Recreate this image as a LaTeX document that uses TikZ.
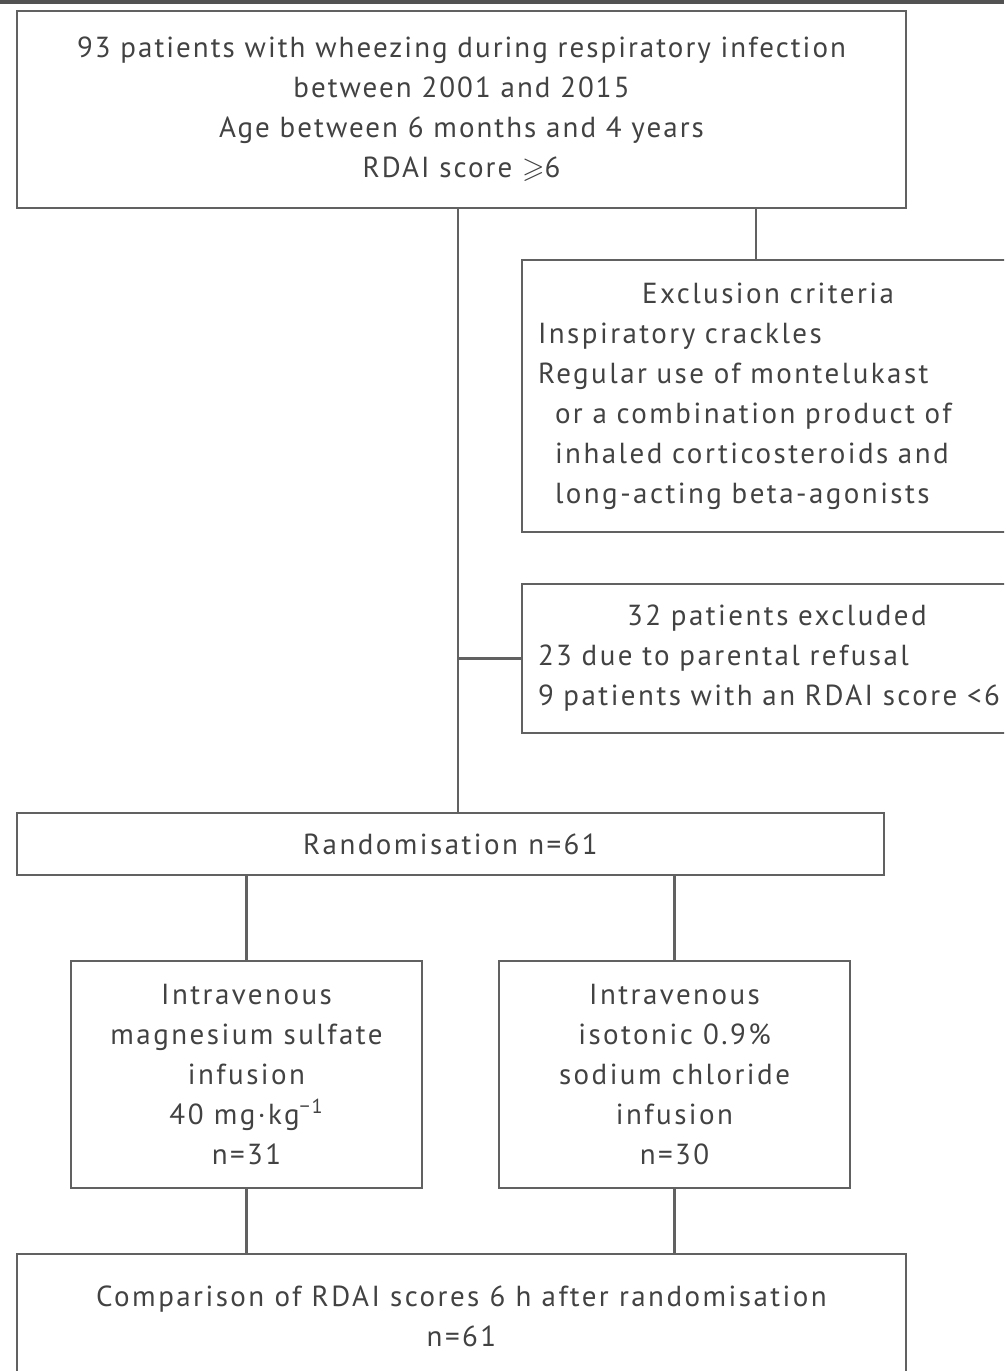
\documentclass[tikz,border=0pt]{standalone}
\usepackage{amssymb}
\usepackage{fontspec}
\setmainfont[LetterSpace=8.5]{PT Sans}
\newfontfamily\headfont[LetterSpace=7]{PT Sans}
\usepackage{tikz}

\begin{document}
\begin{tikzpicture}[
  box/.style={draw=black!62, line width=1.3pt, text=black!74, align=center, inner sep=0pt,
    font=\fontsize{16.5}{22.8}\selectfont},
  link/.style={draw=black!62, line width=1.2pt}]
  \useasboundingbox (0,0) rectangle (20.08,-27.42);
  \clip (0,0) rectangle (20.08,-27.42);
  \fill[black!68] (0,0) rectangle (20.08,-0.07);
  % boxes, placed at their centres
  \node[box, font=\headfont\fontsize{16.5}{22.8}\selectfont, minimum width=17.78cm, minimum height=3.94cm] (cohort) at (9.23,-2.19)
    {93 patients with wheezing during respiratory infection\\ between 2001 and 2015\\
     Age between 6 months and 4 years\\ RDAI score $\geqslant$6};
  \node[box, align=left, text width=9.2cm, minimum width=9.84cm, minimum height=5.44cm] (criteria) at (15.36,-7.92)
    {\hfill Exclusion criteria\hfill\null\\ Inspiratory crackles\\ Regular use of montelukast\\
     \hspace*{0.34cm}or a combination product of\\ \hspace*{0.34cm}inhaled corticosteroids and\\
     \hspace*{0.34cm}long-acting beta-agonists};
  \node[box, align=left, text width=9.56cm, minimum width=10.2cm, minimum height=2.98cm] (excluded) at (15.54,-13.17)
    {\hfill 32 patients excluded\hfill\null\\ 23 due to parental refusal\\ 9 patients with an RDAI score <6};
  \node[box, minimum width=17.34cm, minimum height=1.24cm] (random) at (9.01,-16.88) {Randomisation n=61};
  \node[box, minimum width=7.02cm, minimum height=4.54cm] (magnesium) at (4.93,-21.49)
    {Intravenous\\ magnesium sulfate\\ infusion\\ 40 mg·kg\textsuperscript{\textminus1}\\ n=31};
  \node[box, minimum width=7.02cm, minimum height=4.54cm] (saline) at (13.49,-21.49)
    {Intravenous\\ isotonic 0.9\%\\ sodium chloride\\ infusion\\ n=30};
  \node[box, minimum width=17.78cm, minimum height=2.48cm] (outcome) at (9.23,-26.32)
    {Comparison of RDAI scores 6 h after randomisation\\ n=61};
  % connectors
  \coordinate (trunk) at (9.16,0);
  \coordinate (branch) at (15.12,0);
  \draw[link] (cohort.south -| trunk) -- (random.north -| trunk);
  \draw[link] (cohort.south -| branch) -- (criteria.north -| branch);
  \draw[link] (excluded.west -| trunk) -- (excluded.west);
  \draw[link] (random.south -| magnesium.north) -- (magnesium.north);
  \draw[link] (random.south -| saline.north) -- (saline.north);
  \draw[link] (magnesium.south) -- (outcome.north -| magnesium.south);
  \draw[link] (saline.south) -- (outcome.north -| saline.south);
\end{tikzpicture}
\end{document}
